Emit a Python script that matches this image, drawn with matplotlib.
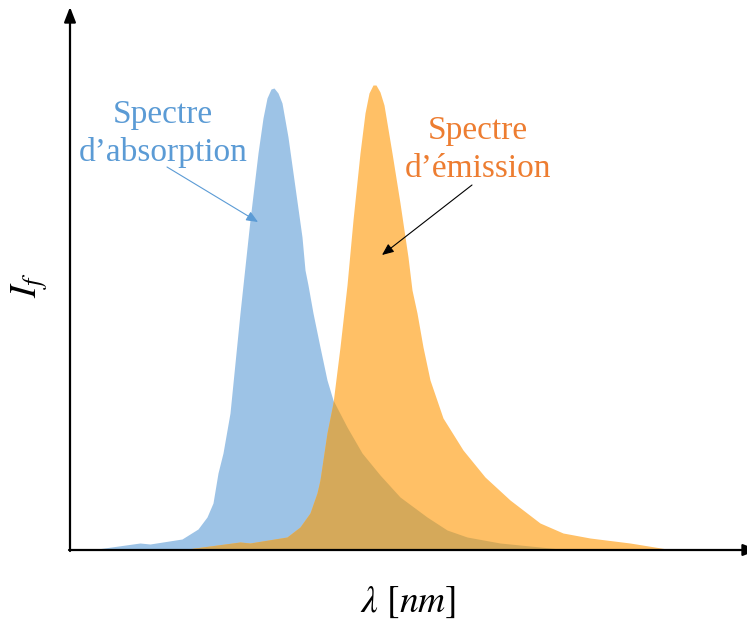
import numpy as np
import matplotlib
matplotlib.use("Agg")
import matplotlib.pyplot as plt

# absorption spectrum (wavelength, intensity) in arbitrary units
abs_wl = [90, 140, 150, 182, 198, 207, 213, 218, 223, 230, 235, 240, 243, 250,
          258, 263, 267, 271, 274, 278, 282, 288, 295, 302, 305, 308, 313, 320,
          327, 333, 347, 362, 380, 400, 427, 447, 467, 500, 530, 560]
abs_int = [0, 7, 6, 11, 21, 33, 47, 77, 97, 137, 187, 237, 265, 330,
           397, 432, 452, 461, 462, 457, 447, 413, 363, 313, 280, 265, 237, 203,
           170, 150, 123, 97, 75, 53, 33, 20, 13, 7, 4, 1]

# emission spectrum
em_wl = [180, 240, 250, 287, 300, 310, 317, 320, 327, 333, 340, 347, 353, 360,
         365, 369, 373, 376, 380, 384, 392, 400, 408, 412, 417, 423, 430, 443,
         463, 485, 510, 540, 563, 590, 630, 667]
em_int = [0, 8, 7, 13, 23, 37, 57, 70, 117, 147, 203, 265, 330, 397,
          437, 457, 465, 465, 458, 445, 397, 347, 293, 260, 237, 203, 170, 132,
          100, 73, 50, 27, 17, 12, 7, 1]

BLUE = "#9DC3E6"
ORANGE = "#FFC066"
OVERLAP = "#D5A95A"

plt.rcParams["mathtext.fontset"] = "stix"

fig = plt.figure(figsize=(7.47, 6.25), dpi=100)
ax = fig.add_axes([0, 0, 1, 1])
ax.set_xlim(0, 747)
ax.set_ylim(-75, 550)
ax.axis("off")

ax.fill_between(abs_wl, abs_int, 0, color=BLUE, lw=0)
ax.fill_between(em_wl, em_int, 0, color=ORANGE, lw=0)
grid = np.linspace(180, 560, 800)
both = np.minimum(np.interp(grid, abs_wl, abs_int), np.interp(grid, em_wl, em_int))
ax.fill_between(grid, both, 0, color=OVERLAP, lw=0)

# axes with arrows (x arrow head runs off the right edge, as in the original)
head = "-|>,head_length=0.9,head_width=0.35"
ax.annotate("", xy=(70, 543), xytext=(70, -1), annotation_clip=False,
            arrowprops=dict(arrowstyle=head, color="black", lw=1.6,
                            shrinkA=0, shrinkB=0))
ax.annotate("", xy=(758, 0), xytext=(69, 0), annotation_clip=False,
            arrowprops=dict(arrowstyle=head, color="black", lw=1.6,
                            shrinkA=0, shrinkB=0))

ax.text(408, -52, r"$\lambda\ [nm]$", fontsize=27, ha="center", va="center")
ax.text(30, 265, r"$I_f$", fontsize=27, ha="center", va="center", rotation=90)

# annotations
ax.text(163, 416, "Spectre\nd\u2019absorption", fontsize=24, color="#5B9BD5",
        family="Liberation Serif", ha="center", va="center", linespacing=1.3)
ax.annotate("", xy=(258, 328), xytext=(167, 383),
            arrowprops=dict(arrowstyle="-|>,head_length=0.7,head_width=0.3",
                            color="#5B9BD5", lw=0.8, shrinkA=0, shrinkB=0))
ax.text(478, 400, "Spectre\nd\u2019\u00e9mission", fontsize=24, color="#ED7D31",
        family="Liberation Serif", ha="center", va="center", linespacing=1.3)
ax.annotate("", xy=(382, 295), xytext=(472, 365),
            arrowprops=dict(arrowstyle="-|>,head_length=0.7,head_width=0.3",
                            color="black", lw=0.8, shrinkA=0, shrinkB=0))

fig.savefig("out.png", dpi=100)
